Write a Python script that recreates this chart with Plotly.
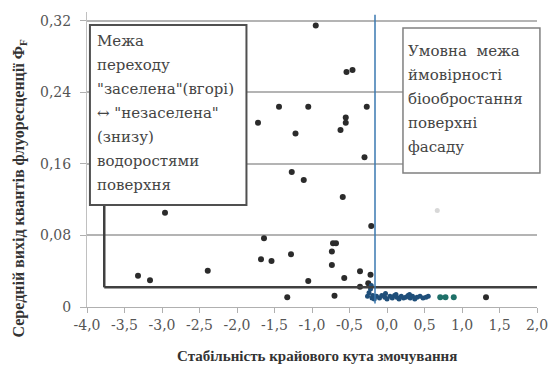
import plotly.graph_objects as go

# Individual facade samples (dark markers)
x_dark = [-0.95, -0.54, -0.46, -1.44, -1.05, -0.27, -1.72, -0.55, -0.55, -0.62,
          -1.22, -0.30, -1.27, -1.11, -0.59, -2.96, -0.21, -1.64, -0.72, -0.68,
          -0.735, -1.28, -1.68, -1.54, -0.735, -2.39, -0.36, -0.57, -0.22, -1.05,
          -0.25, -0.36, -1.33, -0.70, -3.32, -3.16, 1.32]
y_dark = [0.315, 0.263, 0.265, 0.224, 0.224, 0.224, 0.206, 0.212, 0.206, 0.198,
          0.194, 0.1675, 0.151, 0.142, 0.123, 0.1055, 0.0906, 0.077, 0.0713, 0.0713,
          0.062, 0.059, 0.0534, 0.0515, 0.047, 0.0406, 0.040, 0.0325, 0.036, 0.029,
          0.0265, 0.0227, 0.0108, 0.0127, 0.035, 0.030, 0.011]

# Dense group of samples just right of the boundary (blue markers)
x_blue = [-0.26, -0.24, -0.22, -0.21, -0.20, -0.19, -0.17, -0.14, -0.10, -0.07,
          -0.03, 0.00, 0.04, 0.07, 0.10, 0.13, 0.16, 0.19, 0.22, 0.25,
          0.28, 0.31, 0.34, 0.37, 0.40, 0.44, 0.48, 0.52, 0.55, -0.02, 0.12, 0.30]
y_blue = [0.012, 0.016, 0.020, 0.024, 0.010, 0.013, 0.009, 0.012, 0.010, 0.013,
          0.011, 0.009, 0.012, 0.010, 0.013, 0.011, 0.009, 0.012, 0.010, 0.011,
          0.013, 0.010, 0.012, 0.009, 0.011, 0.012, 0.010, 0.011, 0.012, 0.015, 0.014, 0.014]

# Samples at the right (teal markers)
x_teal = [0.71, 0.78, 0.89]
y_teal = [0.011, 0.011, 0.011]

# Faint sample
x_faint = [0.67]
y_faint = [0.108]

y_tick_vals = [0, 0.08, 0.16, 0.24, 0.32]
y_tick_text = ["0", "0,08", "0,16", "0,24", "0,32"]
x_tick_vals = [-4.0, -3.5, -3.0, -2.5, -2.0, -1.5, -1.0, -0.5, 0.0, 0.5, 1.0, 1.5, 2.0]
x_tick_text = ["-4,0", "-3,5", "-3,0", "-2,5", "-2,0", "-1,5", "-1,0", "-0,5",
               "0,0", "0,5", "1,0", "1,5", "2,0"]

# Boundaries
boundary_y = 0.022
boundary_x_left = -3.77
limit_x = -0.16

left_lines = ["Межа", "переходу", "\"заселена\"(вгорі)", "↔ \"незаселена\"",
              "(знизу)", "водоростями", "поверхня"]
right_lines = ["Умовна&nbsp;&nbsp;межа", "ймовірності", "біообростання",
               "поверхні", "фасаду"]

W, H = 560, 365
ML, MR, MT, MB = 87, 13, 12, 58
PW, PH = W - ML - MR, H - MT - MB


def px_x(p):
    return (p - ML) / PW


def px_y(p):
    return (H - MB - p) / PH


box_font = "DejaVu Serif"
tick_font = "DejaVu Serif"
title_font = "Liberation Serif"

fig = go.Figure()
fig.add_trace(go.Scatter(x=x_faint, y=y_faint, mode="markers",
                         marker=dict(size=5, color="#d8d8d8"), hoverinfo="skip"))
fig.add_trace(go.Scatter(x=x_dark, y=y_dark, mode="markers",
                         marker=dict(size=6, color="#2b2b2b")))
fig.add_trace(go.Scatter(x=x_blue, y=y_blue, mode="markers",
                         marker=dict(size=5, color="#1f4f7a")))
fig.add_trace(go.Scatter(x=x_teal, y=y_teal, mode="markers",
                         marker=dict(size=6, color="#1e7068")))

shapes = [
    dict(type="line", x0=boundary_x_left, x1=2.0, y0=boundary_y, y1=boundary_y,
         xref="x", yref="y", line=dict(color="#404040", width=2.5), layer="above"),
    dict(type="line", x0=boundary_x_left, x1=boundary_x_left, y0=boundary_y, y1=0.30,
         xref="x", yref="y", line=dict(color="#404040", width=2.5), layer="above"),
    dict(type="line", x0=limit_x, x1=limit_x, y0=0.004, y1=0.327,
         xref="x", yref="y", line=dict(color="#3a78b0", width=1.5), layer="above"),
    dict(type="rect", x0=px_x(90), x1=px_x(250), y0=px_y(205), y1=px_y(25),
         xref="paper", yref="paper", fillcolor="white",
         line=dict(color="#505050", width=2), layer="above"),
    dict(type="rect", x0=px_x(410), x1=px_x(550), y0=px_y(173), y1=px_y(28),
         xref="paper", yref="paper", fillcolor="white",
         line=dict(color="#808080", width=1.5), layer="above"),
]

annotations = []
for i, t in enumerate(left_lines):
    annotations.append(dict(text=t, x=px_x(95), y=px_y(41 + i * 24), xref="paper", yref="paper",
                            xanchor="left", yanchor="middle", showarrow=False,
                            font=dict(family=box_font, size=15, color="#444444")))
for i, t in enumerate(right_lines):
    annotations.append(dict(text=t, x=px_x(413), y=px_y(51 + i * 24), xref="paper", yref="paper",
                            xanchor="left", yanchor="middle", showarrow=False,
                            font=dict(family=box_font, size=15, color="#444444")))

# Axis titles
annotations.append(dict(text="<b>Середній вихід квантів флуоресценції Φ<sub>F</sub></b>",
                        x=-ML / PW + 18 / PW, y=px_y(188), xref="paper", yref="paper",
                        textangle=-90, showarrow=False, xanchor="center", yanchor="middle",
                        font=dict(family=title_font, size=16, color="#333333")))
annotations.append(dict(text="<b>Стабільність крайового кута змочування</b>",
                        x=px_x(322), y=px_y(356), xref="paper", yref="paper",
                        showarrow=False, xanchor="center", yanchor="middle",
                        font=dict(family=title_font, size=15, color="#333333")))

fig.update_layout(
    width=W, height=H,
    margin=dict(l=ML, r=MR, t=MT, b=MB),
    paper_bgcolor="white", plot_bgcolor="white",
    showlegend=False,
    shapes=shapes, annotations=annotations,
    xaxis=dict(range=[-4, 2], tickvals=x_tick_vals, ticktext=x_tick_text,
               showgrid=False, zeroline=False, showline=True, linecolor="#b0b0b0",
               linewidth=1, ticks="outside", ticklen=5, tickcolor="#b0b0b0",
               tickfont=dict(family=tick_font, size=14, color="#555555")),
    yaxis=dict(range=[0, 0.33], tickvals=y_tick_vals, ticktext=y_tick_text,
               showgrid=True, gridcolor="#b4b4b4", gridwidth=2, zeroline=False,
               showline=True, linecolor="#c0c0c0", linewidth=1,
               ticks="outside", ticklen=6, tickcolor="#b0b0b0", ticklabelstandoff=6,
               tickfont=dict(family=tick_font, size=14, color="#555555")),
)

fig.write_html("out.html")
